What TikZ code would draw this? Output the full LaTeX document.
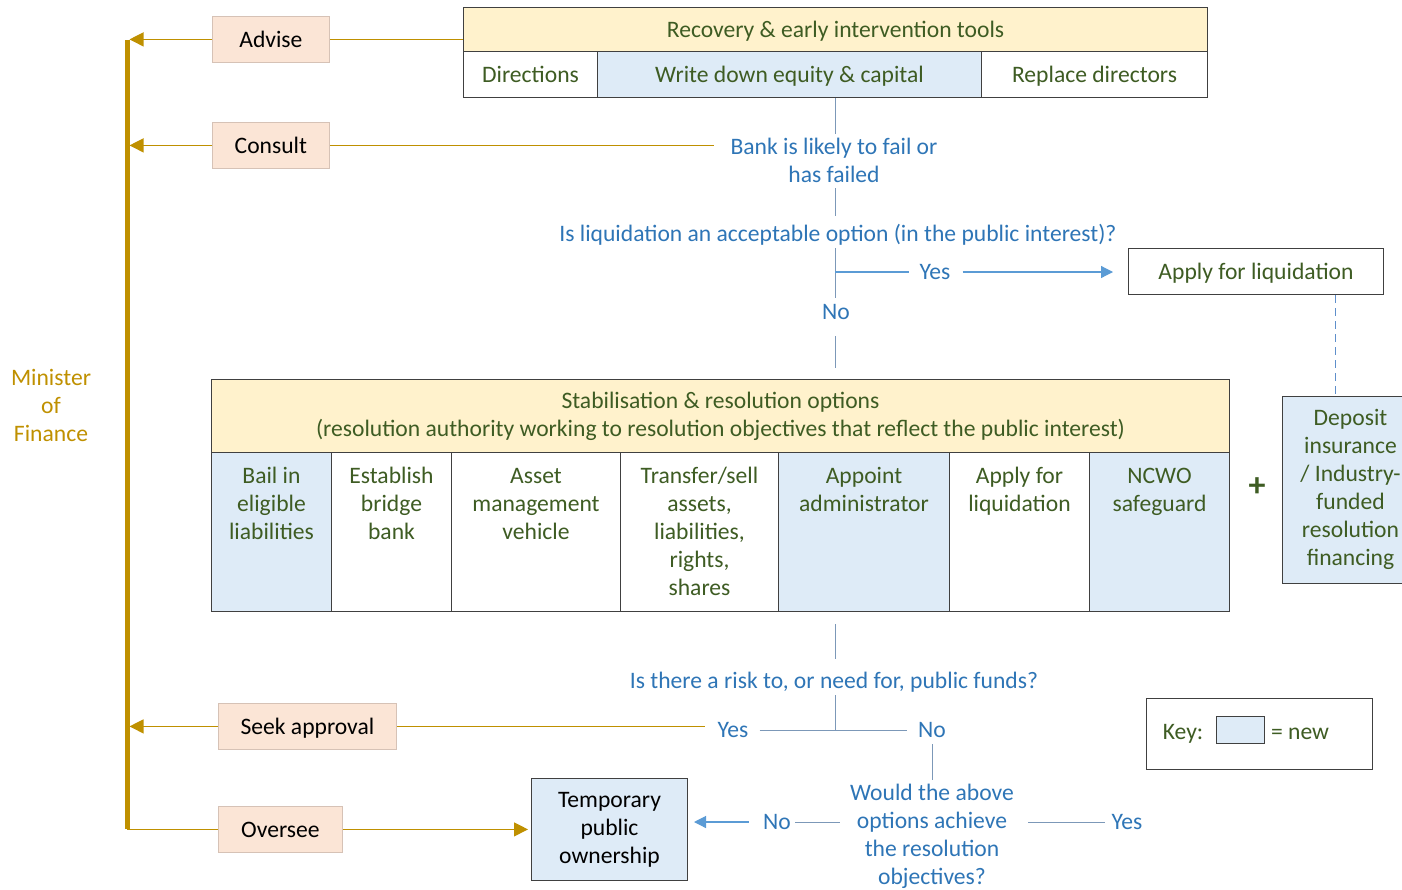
\documentclass[tikz,border=0pt]{standalone}
\usepackage{fontspec}
\setmainfont{Carlito}
\usetikzlibrary{positioning,arrows.meta}
\definecolor{gold}{HTML}{BF9000}
\definecolor{peach}{HTML}{FBE5D6}
\definecolor{peachline}{HTML}{D6C2B6}
\definecolor{cream}{HTML}{FFF2CC}
\definecolor{newblue}{HTML}{DEEBF7}
\definecolor{boxline}{HTML}{404040}
\definecolor{txtgreen}{HTML}{3E5C23}
\definecolor{txtblue}{HTML}{2E75B6}
\definecolor{flow}{HTML}{7C98B8}
\definecolor{arrowblue}{HTML}{5B9BD5}
\definecolor{dashblue}{HTML}{5F8FCB}
\begin{document}
\begin{tikzpicture}[x=1pt,y=-1pt,font=\fontsize{23.6}{28}\selectfont,
 oneline/.style={text height=18.5pt,text depth=2.5pt},
 action/.style={draw=peachline,fill=peach,inner sep=0,minimum height=46pt,text=black,line width=0.8pt,anchor=north west,oneline},
 cell/.style={draw=boxline,line width=1pt,inner sep=0,anchor=north west},
 ctext/.style={text=txtgreen,align=center,inner sep=0,anchor=north},
 q/.style={text=txtblue,align=center,inner sep=4pt},
 lab/.style={q,text height=17pt,text depth=3pt},
 flowline/.style={draw=flow,line width=1pt},
 goldline/.style={draw=gold,line width=1.2pt},
 goldarrow/.style={goldline,-{Triangle[length=14pt,width=14pt]}},
 bluearrow/.style={draw=arrowblue,line width=1.2pt,-{Triangle[length=12pt,width=12pt]}}]
\useasboundingbox (0,0) rectangle (1402,889);
\clip (0,0) rectangle (1402,889);
\coordinate (spine) at (835,0);
\coordinate (bartop) at (127,40);

% action boxes
\node[action,minimum width=117pt] (advise) at (212,16) {Advise};
\node[action,minimum width=117pt] (consult) at (212,122) {Consult};
\node[action,minimum width=178pt] (seek) at (218,703) {Seek approval};
\node[action,minimum width=124pt] (oversee) at (218,806) {Oversee};
\node[text=gold,align=center] (minister) at (51,405) {Minister\\of\\Finance};

% recovery tools
\node[cell,oneline,fill=cream,minimum width=744pt,minimum height=44pt,text=txtgreen] (rec) at (463,7) {Recovery \& early intervention tools};
\node[cell,oneline,fill=white,minimum width=134pt,minimum height=46pt,text=txtgreen] (dir) at (463,51) {Directions};
\node[cell,oneline,fill=newblue,minimum width=384pt,minimum height=46pt,text=txtgreen] (wd) at (597,51) {Write down equity \& capital};
\node[cell,oneline,fill=white,minimum width=226pt,minimum height=46pt,text=txtgreen] (rep) at (981,51) {Replace directors};

% questions
\node[q] (q1) at (834,160) {Bank is likely to fail or\\has failed};
\node[lab] (q2) at (838,234) {Is liquidation an acceptable option (in the public interest)?};
\node[lab] (yes1) at (935,272) {Yes};
\node[lab] (no1) at (836,312) {No};
\node[cell,oneline,fill=white,minimum width=255pt,minimum height=46pt,text=txtgreen] (apply) at (1128,248) {Apply for liquidation};

% stabilisation
\node[cell,fill=cream,minimum width=1018pt,minimum height=73pt,text=txtgreen,align=center] (stab) at (211,379) {Stabilisation \& resolution options\\(resolution authority working to resolution objectives that reflect the public interest)};
\node[cell,fill=newblue,minimum width=120pt,minimum height=159pt] (c1) at (211,452) {};
\node[cell,fill=white,minimum width=120pt,minimum height=159pt] (c2) at (331,452) {};
\node[cell,fill=white,minimum width=169pt,minimum height=159pt] (c3) at (451,452) {};
\node[cell,fill=white,minimum width=158pt,minimum height=159pt] (c4) at (620,452) {};
\node[cell,fill=newblue,minimum width=171pt,minimum height=159pt] (c5) at (778,452) {};
\node[cell,fill=white,minimum width=140pt,minimum height=159pt] (c6) at (949,452) {};
\node[cell,fill=newblue,minimum width=140pt,minimum height=159pt] (c7) at (1089,452) {};
\node[ctext,below=11.4pt of c1.north] (t1) {\strut Bail in\\eligible\\liabilities};
\node[ctext,below=11.4pt of c2.north] (t2) {\strut Establish\\bridge\\bank};
\node[ctext,below=11.4pt of c3.north] (t3) {\strut Asset\\management\\vehicle};
\node[ctext,below=11.4pt of c4.north] (t4) {\strut Transfer/sell\\assets,\\liabilities,\\rights,\\shares};
\node[ctext,below=11.4pt of c5.north] (t5) {\strut Appoint\\administrator};
\node[ctext,below=11.4pt of c6.north] (t6) {\strut Apply for\\liquidation};
\node[ctext,below=11.4pt of c7.north] (t7) {\strut NCWO\\safeguard};
\node[text=txtgreen,font=\fontsize{34}{34}\selectfont\bfseries] (plus) at (1257,487) {+};
\node[cell,fill=newblue,minimum width=136pt,minimum height=187pt] (dep) at (1282,396) {};
\node[ctext,below=9.4pt of dep.north] (dept) {\strut Deposit\\insurance\\/ Industry-\\funded\\resolution\\financing};

% lower questions
\node[lab] (q3) at (834,681) {Is there a risk to, or need for, public funds?};
\node[lab] (yes2) at (733,730) {Yes};
\node[lab] (no2) at (932,730) {No};
\node[q] (q4) at (932,836) {Would the above\\options achieve\\the resolution\\objectives?};
\node[lab] (no3) at (777,822) {No};
\node[lab] (yes3) at (1127,822) {Yes};
\node[cell,fill=newblue,minimum width=156pt,minimum height=102pt,text=black,align=center] (temp) at (531,778) {Temporary\\public\\ownership};

% key
\node[cell,fill=white,minimum width=226pt,minimum height=71pt] (key) at (1146,698) {};
\node[text=txtgreen,oneline] (keyl) at (1183,731) {Key:};
\node[draw=boxline,line width=1pt,fill=newblue,minimum width=48pt,minimum height=27pt,inner sep=0] (keyb) at (1240,729.5) {};
\node[text=txtgreen,oneline] (keyr) at (1300,731) {= new};

% gold connectors
\draw[gold,line width=5pt] (bartop) -- (oversee.west -| bartop);
\draw[goldarrow,shorten >=2.5pt] (advise.west) -- (advise.west -| bartop);
\draw[goldarrow,shorten >=2.5pt] (consult.west) -- (consult.west -| bartop);
\draw[goldarrow,shorten >=2.5pt] (seek.west) -- (seek.west -| bartop);
\draw[goldline] (oversee.west -| bartop) -- (oversee.west);
\draw[goldarrow,shorten >=3pt] (oversee.east) -- (oversee.east -| temp.west);
\draw[goldline] (advise.east) -- (advise.east -| rec.west);
\draw[goldline,shorten >=12pt] (consult.east) -- (consult.east -| q1.west);
\draw[goldline,shorten >=8pt] (seek.east) -- (seek.east -| yes2.west);

% flow connectors
\draw[flowline] (wd.south -| spine) -- (q1.north -| spine);
\draw[flowline,shorten <=2pt,shorten >=4pt] (q1.south -| spine) -- (q2.north -| spine);
\draw[flowline] (q2.south -| spine) -- (no1.north -| spine);
\draw[draw=arrowblue,line width=1.2pt,shorten >=6pt] (yes1.west -| spine) -- (yes1.west);
\draw[bluearrow,shorten <=8pt,shorten >=15pt] (yes1.east) -- (yes1.east -| apply.west);
\draw[flowline,shorten <=10pt,shorten >=11pt] (no1.south -| spine) -- (stab.north -| spine);
\draw[draw=dashblue,line width=1pt,dash pattern=on 8pt off 5pt] ([xshift=79.5pt]apply.south) -- ([xshift=79.5pt]apply.south |- dep.north);
\draw[flowline,shorten <=12pt,shorten >=8pt] (c5.south -| spine) -- (q3.north -| spine);
\draw[flowline] (q3.south -| spine) -- (yes2.east -| spine);
\draw[flowline,shorten <=7pt,shorten >=7pt] (yes2.east) -- (no2.west);
\draw[flowline] (no2.south) -- (q4.north);
\draw[flowline,shorten >=6pt] (no3.east) -- (no3.east -| q4.west);
\draw[bluearrow,shorten <=10pt,shorten >=6pt] (no3.west) -- (no3.west -| temp.east);
\draw[flowline,shorten <=10pt,shorten >=2pt] (yes3.west -| q4.east) -- (yes3.west);
\end{tikzpicture}
\end{document}
